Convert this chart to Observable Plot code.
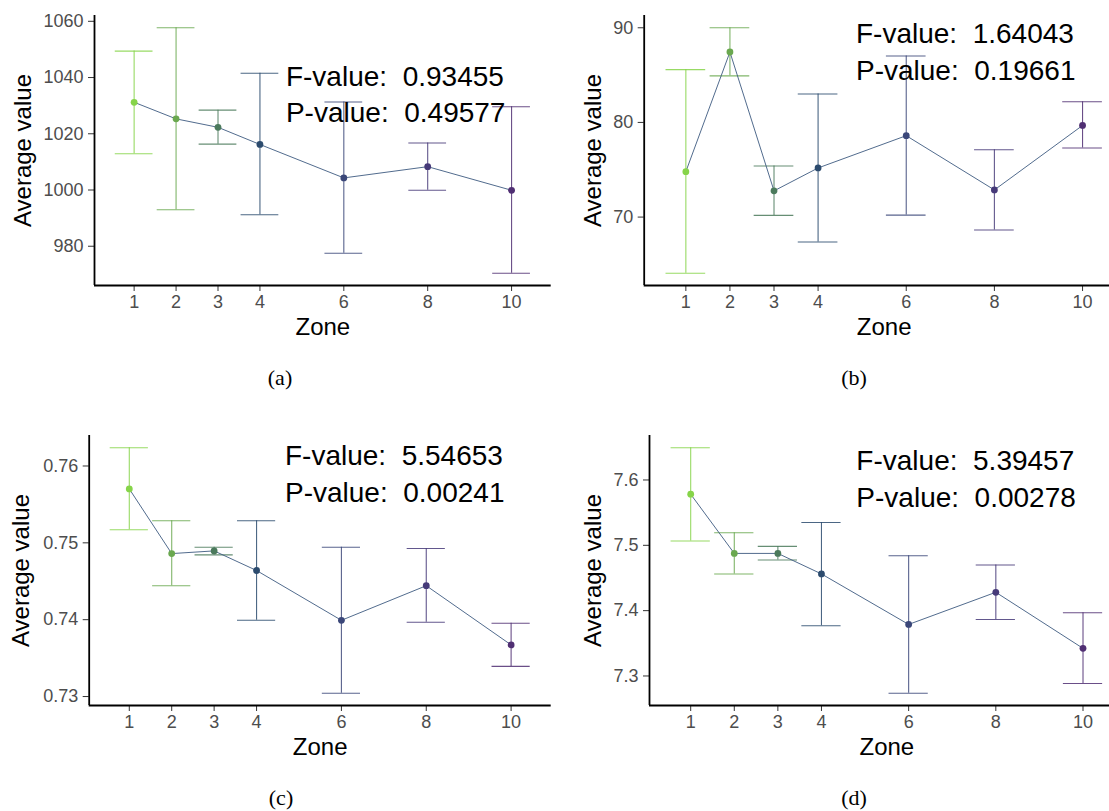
<!DOCTYPE html>
<html><head><meta charset="utf-8">
<script src="https://cdn.jsdelivr.net/npm/d3@7"></script>
<script src="https://cdn.jsdelivr.net/npm/@observablehq/plot@0.6"></script>
<style>
html,body{margin:0;padding:0;background:#fff;}
#root{position:relative;width:1109px;height:811px;overflow:hidden;background:#fff;}
.panel{position:absolute;}
.panel svg{max-width:none !important;display:block;}
.cap{position:absolute;transform:translate(-50%,-50%);font-family:"Liberation Serif","DejaVu Serif",serif;font-size:22px;color:#000;white-space:nowrap;}
svg text{white-space:pre;}
</style></head><body><div id="root"></div>
<script>
// ---- data ----
const zones = [1, 2, 3, 4, 6, 8, 10];
const xTicks = [1, 2, 3, 4, 6, 8, 10];
const zoneColors = ["#86d449", "#6aa84f", "#4b7a5c", "#2c4b6e", "#3b4779", "#463a79", "#502f73"];

const meanA  = [1031.2, 1025.3, 1022.3, 1016.2, 1004.3, 1008.3, 999.9];
const lowerA = [1012.9, 993.0, 1016.3, 991.2, 977.5, 999.9, 970.4];
const upperA = [1049.4, 1057.7, 1028.4, 1041.5, 1031.3, 1016.7, 1029.6];
const yTicksA = [980, 1000, 1020, 1040, 1060];

const meanB  = [74.8, 87.44, 72.77, 75.19, 78.6, 72.87, 79.68];
const lowerB = [64.07, 84.92, 70.18, 67.37, 70.21, 68.63, 77.3];
const upperB = [85.58, 90.0, 75.4, 83.0, 87.02, 77.12, 82.18];
const yTicksB = [70, 80, 90];

const meanC  = [0.75702, 0.74860, 0.74895, 0.74640, 0.73992, 0.74442, 0.73672];
const lowerC = [0.75171, 0.74442, 0.74843, 0.73992, 0.73043, 0.73966, 0.73392];
const upperC = [0.76237, 0.75288, 0.74942, 0.75288, 0.74942, 0.74927, 0.73953];
const yTicksC = [0.73, 0.74, 0.75, 0.76];

const meanD  = [7.5782, 7.4876, 7.4876, 7.4562, 7.3789, 7.4281, 7.3423];
const lowerD = [7.5065, 7.4562, 7.4775, 7.3769, 7.2736, 7.3865, 7.2884];
const upperD = [7.6493, 7.5192, 7.4983, 7.5349, 7.4841, 7.4699, 7.3967];
const yTicksD = [7.3, 7.4, 7.5, 7.6];

const fValues = ["0.93455", "1.64043", "5.54653", "5.39457"];
const pValues = ["0.49577", "0.19661", "0.00241", "0.00278"];
const captions = ["(a)", "(b)", "(c)", "(d)"];
// annotation anchors in data units (zone, value of F line, value of P line)
const annotX = [4.62, 4.86, 4.67, 4.80];
const annotYF = [1040.3, 89.34, 0.76130, 7.629];
const annotYP = [1027.3, 85.44, 0.75654, 7.572];

const xLabel = "Zone";
const yLabel = "Average value";

// ---- layout ----
const panels = [
  {mean: meanA, lower: lowerA, upper: upperA, ticks: yTicksA, fmt: d3.format("d"),   left: 0,   top: 0,   width: 555, ml: 94,   tdx: -71.5, capX: 280, capY: 378},
  {mean: meanB, lower: lowerB, upper: upperB, ticks: yTicksB, fmt: d3.format("d"),   left: 555, top: 0,   width: 573, ml: 88.7, tdx: -50.7, capX: 854, capY: 378},
  {mean: meanC, lower: lowerC, upper: upperC, ticks: yTicksC, fmt: d3.format(".2f"), left: 0,   top: 420, width: 555, ml: 88.7, tdx: -68,   capX: 281, capY: 798},
  {mean: meanD, lower: lowerD, upper: upperD, ticks: yTicksD, fmt: d3.format(".1f"), left: 555, top: 420, width: 573, ml: 94,   tdx: -56,   capX: 854, capY: 798}
];

const root = document.getElementById("root");
const capHalf = 0.45;
const xDomain = [0.55 - 0.495, 10.45 + 0.495];
const lineColor = "#3d5a80";

panels.forEach((p, i) => {
  const rows = zones.map((z, k) => ({zone: z, mean: p.mean[k], lower: p.lower[k], upper: p.upper[k], color: zoneColors[k]}));
  const lo = d3.min(p.lower), hi = d3.max(p.upper), ext = (hi - lo) * 0.05;
  const yDomain = [lo - ext, hi + ext];
  const ann = [
    {x: annotX[i], y: annotYF[i], t: "F-value:  " + fValues[i]},
    {x: annotX[i], y: annotYP[i], t: "P-value:  " + pValues[i]}
  ];
  const chart = Plot.plot({
    width: p.width,
    height: 345,
    marginLeft: p.ml,
    marginRight: 4.3,
    marginTop: 15,
    marginBottom: 60,
    style: {fontFamily: "'Liberation Sans', Arial, sans-serif", background: "white", overflow: "visible"},
    x: {domain: xDomain},
    y: {domain: yDomain},
    color: {type: "identity"},
    marks: [
      Plot.axisX({ticks: xTicks, tickFormat: d3.format("d"), tickSize: 6, tickPadding: 4, fontSize: 18, color: "#4d4d4d", stroke: "#333", label: null}),
      Plot.axisY({ticks: p.ticks, tickFormat: p.fmt, tickSize: 6, tickPadding: 5, fontSize: 18, color: "#4d4d4d", stroke: "#333", label: null}),
      Plot.ruleY([yDomain[0]], {stroke: "black", strokeWidth: 1.8}),
      Plot.ruleX([xDomain[0]], {stroke: "black", strokeWidth: 1.8}),
      Plot.ruleX(rows, {x: "zone", y1: "lower", y2: "upper", stroke: "color", strokeOpacity: 0.85, strokeWidth: 1.1}),
      Plot.ruleY(rows, {y: "upper", x1: d => d.zone - capHalf, x2: d => d.zone + capHalf, stroke: "color", strokeOpacity: 0.85, strokeWidth: 1.1}),
      Plot.ruleY(rows, {y: "lower", x1: d => d.zone - capHalf, x2: d => d.zone + capHalf, stroke: "color", strokeOpacity: 0.85, strokeWidth: 1.1}),
      Plot.line(rows, {x: "zone", y: "mean", stroke: lineColor, strokeWidth: 0.9}),
      Plot.dot(rows, {x: "zone", y: "mean", fill: "color", r: 3.4}),
      Plot.text(ann, {x: "x", y: "y", text: "t", textAnchor: "start", lineAnchor: "middle", fontSize: 28, fill: "black"}),
      Plot.text([xLabel], {frameAnchor: "bottom", dy: 42, textAnchor: "middle", lineAnchor: "middle", fontSize: 24, fill: "black"}),
      Plot.text([yLabel], {frameAnchor: "left", rotate: -90, dx: p.tdx, textAnchor: "middle", lineAnchor: "middle", fontSize: 24, fill: "black"})
    ]
  });
  const div = document.createElement("div");
  div.className = "panel";
  div.style.left = p.left + "px";
  div.style.top = p.top + "px";
  div.style.width = p.width + "px";
  div.appendChild(chart);
  root.appendChild(div);
  const cap = document.createElement("div");
  cap.className = "cap";
  cap.style.left = p.capX + "px";
  cap.style.top = p.capY + "px";
  cap.textContent = captions[i];
  root.appendChild(cap);
});
</script>
</body></html>
